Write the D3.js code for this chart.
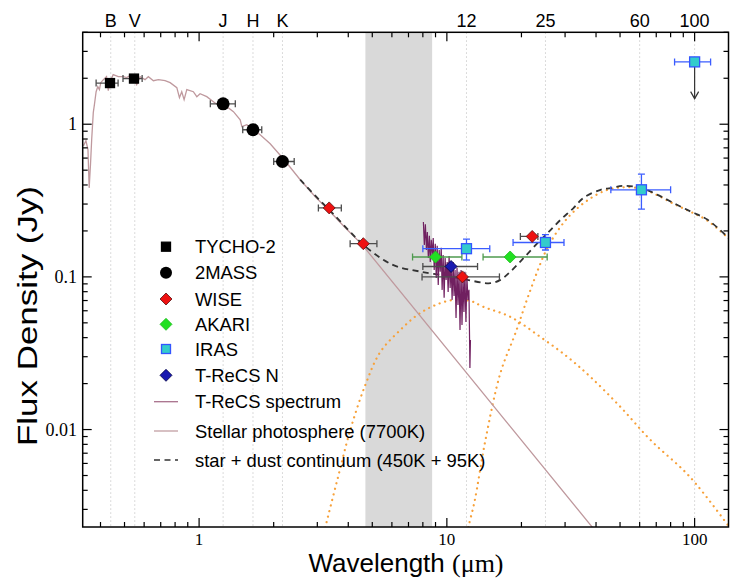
<!DOCTYPE html>
<html><head><meta charset="utf-8">
<script src="https://cdn.jsdelivr.net/npm/d3@7"></script>
<style>body{margin:0;background:#fff}</style>
</head><body>
<svg id="c" width="730" height="578"></svg>
<script>
// ---------- DATA ----------
const bandNames = ["B","V","J","H","K","12","25","60","100"];
const bandWl    = [0.44,0.55,1.25,1.65,2.17,12,25,60,100];
const xTickValues = [1,10,100];
const xTickLabels = ["1","10","100"];
const yTickValues = [0.01,0.1,1];
const yTickLabels = ["0.01","0.1","1"];
const shadedBand = [4.69,8.72];

const photoWl   = [0.3415,0.3494,0.356,0.360,0.3644,0.3685,0.374,0.378,0.384,0.390,0.396,0.401,0.411,0.423,0.430,0.437,0.450,0.472,0.494,0.510,0.535,0.560,0.578,0.605,0.624,0.654,0.685,0.729,0.764,0.813,0.833,0.851,0.870,0.892,0.948,0.979,1.009,1.074,1.142,1.216,1.294,1.376,1.465,1.488,1.558,1.637,1.764,1.936,2.204,2.559,2.943,3.320,3.890,4.557,41.7];
const photoFlux = [0.723,0.779,0.681,0.383,0.543,0.791,1.19,1.342,1.633,1.762,1.684,1.871,1.958,2.049,1.659,1.899,2.111,2.049,2.049,2.018,2.111,1.816,2.049,1.958,2.049,1.928,1.958,1.928,1.871,1.735,1.492,1.633,1.447,1.684,1.633,1.515,1.585,1.515,1.404,1.302,1.302,1.208,1.070,0.963,0.992,0.934,0.853,0.745,0.585,0.433,0.335,0.275,0.2096,0.162,0.00197];

const modelWl   = [2.559,2.943,3.383,4.000,4.557,5.539,6.310,7.815,10.33,12.10,14.99,16.45,18.06,20.38,23.21,25.48,28.75,32.44,35.60,41.71,45.79,51.67,61.08,70.88,82.28,96.34,112.9,137.3];
const modelFlux = [0.433,0.340,0.271,0.2033,0.1646,0.1293,0.1168,0.1083,0.1005,0.0956,0.0909,0.0956,0.1083,0.1326,0.1663,0.1934,0.2365,0.2822,0.3296,0.3719,0.3816,0.3951,0.3816,0.3448,0.3043,0.2680,0.2365,0.1794];

const warmWl   = [3.141,3.229,3.611,4.075,4.686,5.387,6.487,7.599,8.821,10.62,12.44,14.05,18.06,23.87,30.69,38.00,50.23,66.41,95.45,146.4];
const warmFlux = [0.00193,0.00229,0.00467,0.00993,0.01957,0.03222,0.0449,0.0563,0.0645,0.0707,0.0696,0.0636,0.0547,0.0404,0.0299,0.0221,0.01405,0.00853,0.00492,0.00202];

const coldWl   = [11.99,12.21,12.92,14.31,16.45,18.92,21.75,25.23,28.75,32.44,38.00,44.52,51.67,61.08,70.88,82.28,96.34,112.9,146.4];
const coldFlux = [0.00193,0.00229,0.00335,0.00853,0.02347,0.0429,0.0822,0.1503,0.2128,0.2669,0.3271,0.3719,0.3863,0.3776,0.3423,0.3011,0.2669,0.2330,0.162];

const specWl   = [8.04,8.11,8.19,8.27,8.34,8.42,8.50,8.57,8.65,8.73,8.81,8.89,8.98,9.06,9.14,9.23,9.31,9.40,9.49,9.57,9.66,9.75,9.84,9.93,10.03,10.12,10.21,10.31,10.40,10.50,10.60,10.69,10.79,10.89,10.99,11.09,11.20,11.30,11.41,11.51,11.62,11.72,11.83,11.94,12.05,12.17,12.28,12.39,12.45];
const specFlux = [0.229,0.162,0.221,0.150,0.197,0.133,0.186,0.125,0.175,0.139,0.180,0.111,0.165,0.0985,0.160,0.0886,0.150,0.108,0.155,0.0822,0.139,0.0729,0.133,0.0956,0.125,0.0797,0.137,0.0847,0.122,0.0707,0.125,0.0751,0.111,0.0538,0.1146,0.0655,0.108,0.0449,0.111,0.0484,0.103,0.0590,0.108,0.0507,0.0985,0.0707,0.0822,0.0253,0.0386];

const tychoWl = [0.437,0.546], tychoFlux = [1.86,1.99], tychoLo = [0.384,0.493], tychoHi = [0.471,0.589];
const tmassWl = [1.25,1.65,2.17], tmassFlux = [1.36,0.92,0.57], tmassLo = [1.11,1.50,2.00], tmassHi = [1.40,1.79,2.42];
const wiseWl = [3.35,4.6,11.56,22.1], wiseFlux = [0.283,0.165,0.100,0.184], wiseLo = [3.03,4.07,7.94,19.8], wiseHi = [3.75,5.22,16.3,23.3];
const akariWl = [9.0,18.0], akariFlux = [0.135,0.135], akariLo = [7.27,14.0], akariHi = [11.5,25.4];
const irasWl = [12,25,61], irasFlux = [0.153,0.168,0.372], irasLo = [8.0,18.5,45.9], irasHi = [14.9,29.7,80], irasFLo = [0.129,0.150,0.278], irasFHi = [0.177,0.189,0.471];
const irasLimWl = [100], irasLimFlux = [2.56], irasLimLo = [83], irasLimHi = [116], irasLimArrow = [1.47];
const trecsWl = [10.4], trecsFlux = [0.117], trecsLo = [8.0], trecsHi = [13.3];

const legendLabels = ["TYCHO-2","2MASS","WISE","AKARI","IRAS","T-ReCS N","T-ReCS spectrum","Stellar photosphere (7700K)","star + dust continuum (450K + 95K)"];

// ---------- CHART ----------
const svg = d3.select("#c");
const m = {l:82.7, t:32.3, r:728.5, b:527};
const x = d3.scaleLog().domain([0.339,137]).range([m.l,m.r]);
const y = d3.scaleLog().domain([0.0023,4.0]).range([m.b,m.t]);
const SANS = "'Liberation Sans', Arial, Helvetica, sans-serif";
const SERIF = "'Liberation Serif', 'Times New Roman', serif";

svg.append("defs").append("clipPath").attr("id","clip")
  .append("rect").attr("x",m.l).attr("y",m.t).attr("width",m.r-m.l).attr("height",m.b-m.t);
const g = svg.append("g").attr("clip-path","url(#clip)");

// shaded band
g.append("rect").attr("x",x(shadedBand[0])).attr("y",m.t)
  .attr("width",x(shadedBand[1])-x(shadedBand[0])).attr("height",m.b-m.t).attr("fill","#d9d9d9");

// band dotted lines
g.selectAll(".bl").data(bandWl).enter().append("line")
  .attr("x1",d=>x(d)).attr("x2",d=>x(d)).attr("y1",m.t).attr("y2",m.b)
  .attr("stroke","#cfcfcf").attr("stroke-width",1).attr("stroke-dasharray","1.5,2.5");

const zip = (a,b)=>a.map((v,i)=>[v,b[i]]);
const lineLin = d3.line().x(d=>x(d[0])).y(d=>y(d[1]));
const lineSm = d3.line().x(d=>x(d[0])).y(d=>y(d[1])).curve(d3.curveCatmullRom.alpha(0.5));

// dust
[[warmWl,warmFlux],[coldWl,coldFlux]].forEach(([a,b])=>{
  g.append("path").attr("d",lineSm(zip(a,b))).attr("fill","none")
   .attr("stroke","#f7a13a").attr("stroke-width",2.2).attr("stroke-linecap","round")
   .attr("stroke-dasharray","0.1,5.6");
});
// photosphere
g.append("path").attr("d",lineLin(zip(photoWl,photoFlux))).attr("fill","none")
  .attr("stroke","#bf999e").attr("stroke-width",1.3);
// model
g.append("path").attr("d",lineSm(zip(modelWl,modelFlux))).attr("fill","none")
  .attr("stroke","#333").attr("stroke-width",1.8).attr("stroke-dasharray","6,4.5");
// spectrum
g.append("path").attr("d",lineLin(zip(specWl,specFlux))).attr("fill","none")
  .attr("stroke","#702060").attr("stroke-width",1.2);

// error bars
function xerr(wl,f,lo,hi,col){
  wl.forEach((w,i)=>{
    const yy=y(f[i]);
    g.append("line").attr("x1",x(lo[i])).attr("x2",x(hi[i])).attr("y1",yy).attr("y2",yy).attr("stroke",col).attr("stroke-width",1.3);
    [lo[i],hi[i]].forEach(v=>g.append("line").attr("x1",x(v)).attr("x2",x(v)).attr("y1",yy-3.5).attr("y2",yy+3.5).attr("stroke",col).attr("stroke-width",1.3));
  });
}
function yerr(wl,flo,fhi,col){
  wl.forEach((w,i)=>{
    const xx=x(w);
    g.append("line").attr("x1",xx).attr("x2",xx).attr("y1",y(flo[i])).attr("y2",y(fhi[i])).attr("stroke",col).attr("stroke-width",1.3);
    [flo[i],fhi[i]].forEach(v=>g.append("line").attr("x1",xx-3.5).attr("x2",xx+3.5).attr("y1",y(v)).attr("y2",y(v)).attr("stroke",col).attr("stroke-width",1.3));
  });
}
const GREY="#4d4d4d", GREEN="#4e9a4e", BLUE="#3b5cff";
xerr(tychoWl,tychoFlux,tychoLo,tychoHi,GREY);
xerr(tmassWl,tmassFlux,tmassLo,tmassHi,GREY);
xerr(wiseWl,wiseFlux,wiseLo,wiseHi,GREY);
xerr(trecsWl,trecsFlux,trecsLo,trecsHi,GREY);
xerr(akariWl,akariFlux,akariLo,akariHi,GREEN);
xerr(irasWl,irasFlux,irasLo,irasHi,BLUE);
yerr(irasWl,irasFLo,irasFHi,BLUE);
xerr(irasLimWl,irasLimFlux,irasLimLo,irasLimHi,BLUE);
// upper limit arrow
irasLimWl.forEach((w,i)=>{
  const xx=x(w), y0=y(irasLimFlux[i]), y1=y(irasLimArrow[i]);
  g.append("line").attr("x1",xx).attr("x2",xx).attr("y1",y0).attr("y2",y1).attr("stroke","#333").attr("stroke-width",1.2);
  g.append("path").attr("d",`M${xx-4},${y1-7}L${xx},${y1}L${xx+4},${y1-7}`).attr("fill","none").attr("stroke","#333").attr("stroke-width",1.2);
});

// markers
const sty = {
  tycho:{shape:"square",size:9,fill:"#000",stroke:"#000"},
  tmass:{shape:"circle",size:6.5,fill:"#000",stroke:"#000"},
  wise:{shape:"diamond",size:6,fill:"#ee1111",stroke:"#551111"},
  akari:{shape:"diamond",size:6,fill:"#22e022",stroke:"#22bb22"},
  iras:{shape:"square",size:10,fill:"#33cccc",stroke:"#3355ff"},
  trecs:{shape:"diamond",size:6,fill:"#1a1ab0",stroke:"#000044"}
};
function marker(sel,cx,cy,s){
  if(s.shape==="square") return sel.append("rect").attr("x",cx-s.size/2).attr("y",cy-s.size/2).attr("width",s.size).attr("height",s.size).attr("fill",s.fill).attr("stroke",s.stroke).attr("stroke-width",1.3);
  if(s.shape==="circle") return sel.append("circle").attr("cx",cx).attr("cy",cy).attr("r",s.size).attr("fill",s.fill);
  const r=s.size;
  return sel.append("path").attr("d",`M${cx},${cy-r}L${cx+r},${cy}L${cx},${cy+r}L${cx-r},${cy}Z`).attr("fill",s.fill).attr("stroke",s.stroke).attr("stroke-width",0.8);
}
function plotSet(wl,f,s){ wl.forEach((w,i)=>marker(g,x(w),y(f[i]),s)); }
plotSet(tychoWl,tychoFlux,sty.tycho);
plotSet(tmassWl,tmassFlux,sty.tmass);
plotSet(wiseWl,wiseFlux,sty.wise);
plotSet(akariWl,akariFlux,sty.akari);
plotSet(irasWl,irasFlux,sty.iras);
plotSet(irasLimWl,irasLimFlux,sty.iras);
plotSet(trecsWl,trecsFlux,sty.trecs);

// frame
svg.append("rect").attr("x",m.l).attr("y",m.t).attr("width",m.r-m.l).attr("height",m.b-m.t)
  .attr("fill","none").attr("stroke","#000").attr("stroke-width",1.5);

// ticks
const ax = svg.append("g").attr("stroke","#000").attr("stroke-width",1.2);
[0.1,1,10,100].forEach(d=>{
  for(let k=1;k<=9;k++){
    const v=k*d; if(v<x.domain()[0]||v>x.domain()[1]) continue;
    const L = k===1?9:5, xx=x(v);
    ax.append("line").attr("x1",xx).attr("x2",xx).attr("y1",m.b).attr("y2",m.b-L);
    ax.append("line").attr("x1",xx).attr("x2",xx).attr("y1",m.t).attr("y2",m.t+L);
  }
});
[0.001,0.01,0.1,1].forEach(d=>{
  for(let k=1;k<=9;k++){
    const v=k*d; if(v<y.domain()[0]||v>y.domain()[1]) continue;
    const L = k===1?9:5, yy=y(v);
    ax.append("line").attr("x1",m.l).attr("x2",m.l+L).attr("y1",yy).attr("y2",yy);
    ax.append("line").attr("x1",m.r).attr("x2",m.r-L).attr("y1",yy).attr("y2",yy);
  }
});

// tick labels
xTickValues.forEach((v,i)=>svg.append("text").attr("x",x(v)).attr("y",545).attr("text-anchor","middle")
  .attr("font-family",SERIF).attr("font-size",17).text(xTickLabels[i]));
yTickValues.forEach((v,i)=>svg.append("text").attr("x",77).attr("y",y(v)+6).attr("text-anchor","end")
  .attr("font-family",SERIF).attr("font-size",18).text(yTickLabels[i]));
bandWl.forEach((v,i)=>svg.append("text").attr("x",x(v)).attr("y",27).attr("text-anchor","middle")
  .attr("font-family",SANS).attr("font-size",18).text(bandNames[i]));

// axis titles
const xt = svg.append("text").attr("x",406).attr("y",572).attr("text-anchor","middle").attr("font-size",26).attr("font-family",SANS);
xt.append("tspan").text("Wavelength ");
xt.append("tspan").attr("font-family",SERIF).text("(\u03bcm)");
svg.append("text").attr("transform","translate(37,316) rotate(-90)").attr("text-anchor","middle")
  .attr("font-family",SANS).attr("font-size",27).attr("textLength",260).attr("lengthAdjust","spacingAndGlyphs")
  .text("Flux Density (Jy)");

// legend
const legRows = [246.7,272.7,299,324.3,349,375.3,401.7,431,460];
const lg = svg.append("g");
const legMarkers=[sty.tycho,sty.tmass,sty.wise,sty.akari,sty.iras,sty.trecs];
legMarkers.forEach((s,i)=>{
  const s2 = Object.assign({},s); if(s.shape==="circle") s2.size=6; if(s.shape==="square") s2.size=9;
  marker(lg,166,legRows[i],s2);
});
[["#a8708c",null],["#c29ea3",null],["#333","6,4.5"]].forEach((c,j)=>{
  const yy=legRows[6+j];
  const l=lg.append("line").attr("x1",154).attr("x2",178).attr("y1",yy).attr("y2",yy).attr("stroke",c[0]).attr("stroke-width",c[1]?1.6:1.3);
  if(c[1]) l.attr("stroke-dasharray",c[1]);
});
legendLabels.forEach((t,i)=>lg.append("text").attr("x",195).attr("y",legRows[i]+6.5)
  .attr("font-family",SANS).attr("font-size",18.4).text(t));
</script>
</body></html>
